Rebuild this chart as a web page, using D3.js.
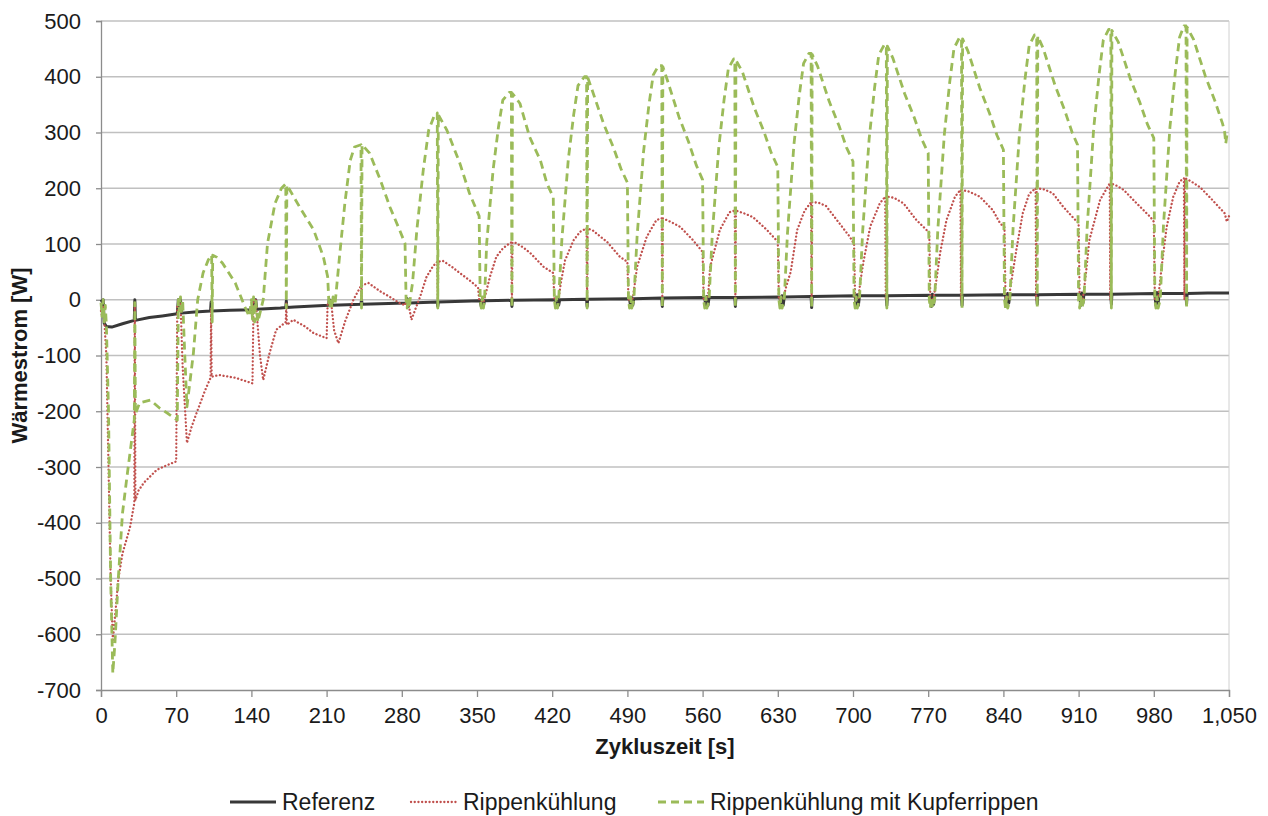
<!DOCTYPE html>
<html>
<head>
<meta charset="utf-8">
<title>Wärmestrom</title>
<script src="https://cdn.jsdelivr.net/npm/d3@7"></script>
<style>
  body { margin: 0; background: #fff; }
  text { font-family: "Liberation Sans", Arial, sans-serif; fill: #1a1a1a; }
</style>
</head>
<body>
<div id="chart"></div>
<script type="text/javascript">
// data: [Zykluszeit s, Wärmestrom W]
var seriesNames = ["Referenz", "Rippenkühlung", "Rippenkühlung mit Kupferrippen"];
var xTicks = [0, 70, 140, 210, 280, 350, 420, 490, 560, 630, 700, 770, 840, 910, 980, 1050];
var yTicks = [-700, -600, -500, -400, -300, -200, -100, 0, 100, 200, 300, 400, 500];

var referenz = [
  [0,0],[1,-3],[2,0],[3,-42],[5,-48],[10,-49],[20,-43],[31,-37],[31.5,0],[32,-37],[45,-32],[57,-29],
  [71,-25],[72,0],[74,0],[75,-24],[87,-22],[102,-20],[102.5,-4],[103,-20],[120,-19],[141,-18],[142,0],
  [144,0],[145,-17],[167,-15],[172,-14],[172.5,-2],[173,-14],[180,-13],[212,-10],[212.5,0],[214,-2],
  [215,-10],[229,-9],[242,-8],[242.5,0],[243,-8],[284,-6],[285,2],[286,-12],[287,-6],[313,-4],
  [313.5,-12],[314,-4],[353,-2],[354,-12],[355,2],[356,-10],[357,-2],[382,-1],[382.5,-12],[383,-1],
  [423,0],[424,-12],[425,3],[426,-10],[427,0],[452,1],[452.5,-12],[453,1],[492,2],[493,-12],[494,4],
  [495,-10],[496,2],[522,3],[522.5,-12],[523,3],[562,4],[563,-12],[564,6],[565,-10],[566,4],[590,4],
  [590.5,-12],[591,4],[632,5],[633,-12],[634,7],[635,-10],[636,5],[661,6],[661.5,-14],[662,6],[702,7],
  [703,-12],[704,9],[705,-10],[706,7],[731,7],[731.5,-10],[732,7],[772,8],[773,-12],[774,10],[775,-8],
  [776,8],[801,8],[801.5,-10],[802,8],[842,9],[843,-10],[844,11],[845,-6],[846,9],[871,9],[871.5,-8],
  [872,9],[911,10],[912,-10],[913,12],[914,-6],[915,10],[940,10],[940.5,-8],[941,10],[981,11],
  [982,-10],[983,13],[984,-6],[985,11],[1010,11],[1010.5,-8],[1011,11],[1030,12],[1050,12]
];

var rippen = [
  [0,-20],[1,-30],[2,-10],[3,-35],[5,-100],[7,-300],[9,-500],[11,-610],[13,-570],[16,-503],[20,-455],
  [27,-408],[31,-365],[31.5,-5],[32,-360],[35,-342],[40,-328],[52,-305],[60,-298],[70,-290],[71,-10],
  [74,-5],[76,-120],[80,-257],[84,-230],[89,-203],[97,-162],[102,-140],[102.5,-15],[103,-138],[110,-135],
  [125,-140],[141,-150],[142,-5],[144,0],[148,-100],[151,-144],[157,-95],[163,-54],[172,-40],[172.5,-5],
  [173,-45],[179,-36],[190,-48],[198,-60],[210,-69],[211,-5],[214,0],[217,-55],[221,-78],[227,-40],
  [235,0],[242,25],[242.5,0],[243,26],[249,30],[260,15],[269,5],[278,-6],[283,-10],[284,0],[286,-5],
  [289,-36],[293,-15],[297,5],[303,41],[309,60],[313,68],[313.5,0],[314,68],[318,70],[326,60],[334,48],
  [343,35],[351,22],[352,0],[356,-5],[358,10],[362,41],[368,77],[374,92],[378,98],[382,103],[382.5,0],
  [383,103],[386,102],[393,94],[400,83],[412,59],[421,48],[422,0],[426,2],[428,30],[432,71],[440,107],
  [446,122],[452,128],[452.5,0],[453,128],[458,124],[465,113],[471,104],[483,77],[490,68],[491,0],
  [495,2],[497,30],[499,59],[508,113],[517,143],[522,146],[522.5,0],[523,146],[530,140],[539,131],
  [551,107],[560,86],[561,0],[565,2],[567,59],[576,125],[585,157],[590,160],[590.5,0],[591,160],
  [600,154],[607,148],[620,125],[630,104],[631,0],[635,2],[638,25],[642,50],[648,125],[655,160],
  [661,175],[661.5,0],[662,175],[668,174],[675,168],[685,143],[697,113],[701,100],[702,0],[705,2],
  [707,35],[710,71],[716,131],[725,173],[730,185],[730.5,0],[731,185],[738,183],[747,173],[759,143],
  [767,128],[771,120],[772,0],[775,2],[778,40],[781,83],[787,143],[795,185],[800,197],[800.5,0],
  [801,197],[808,194],[818,185],[830,161],[837,137],[841,130],[842,0],[845,2],[848,40],[852,89],
  [858,155],[864,190],[870,200],[870.5,0],[871,200],[878,198],[886,191],[896,166],[907,143],[910,138],
  [911,0],[914,2],[917,50],[920,107],[930,179],[939,209],[939.5,0],[940,209],[946,204],[952,197],
  [964,173],[977,148],[980,140],[981,0],[984,2],[988,70],[992,131],[998,184],[1004,212],[1008,218],
  [1008.5,0],[1009,218],[1015,212],[1023,202],[1035,178],[1046,155],[1048,140],[1050,150]
];

var kupfer = [
  [0,-5],[1,-30],[2,0],[3,-40],[4,-10],[5,-45],[7,-200],[9,-500],[11,-670],[13,-615],[16,-503],
  [20,-383],[24,-320],[28,-260],[31,-215],[31.5,-5],[32,-205],[36,-185],[46,-180],[55,-195],[63,-205],
  [71,-216],[72,0],[73,-20],[74,5],[75,-25],[76,0],[78,-100],[80,-192],[86,-96],[90,0],[95,48],
  [100,72],[103,80],[103.5,-40],[104,80],[108,76],[113,66],[125,30],[134,-13],[138,-30],[140,0],
  [141,-35],[142,5],[143,-40],[144,0],[146,-40],[151,0],[155,101],[162,173],[168,200],[172,208],
  [172.5,-15],[173,206],[185,166],[198,125],[207,77],[211,41],[212,0],[213,-15],[214,5],[215,-15],
  [216,5],[218,-5],[222,77],[227,173],[232,250],[236,274],[242,278],[242.5,-15],[243,278],[250,263],
  [260,215],[269,166],[278,125],[283,101],[284,0],[285,-15],[286,5],[287,-15],[288,5],[290,30],
  [294,125],[300,233],[305,304],[311,334],[313,335],[313.5,-15],[314,332],[322,304],[334,245],
  [343,191],[352,150],[353,0],[354,-15],[355,5],[356,-15],[357,0],[359,101],[365,233],[370,310],
  [374,358],[380,372],[382,372],[382.5,-15],[383,370],[390,352],[399,292],[409,250],[415,209],
  [421,184],[422,0],[423,-15],[424,5],[425,-15],[426,0],
  [429,108],[435,252],[440,332],[444,384],[450,400],[452,400],[452.5,-15],[453,399],[457,377],
  [468,315],[477,273],[484,235],[490,210],[491,0],[492,-15],[493,5],[494,-15],[496,0],
  [499,113],[505,265],[510,349],[514,403],[519,420],[522,420],[522.5,-15],[523,418],[527,395],
  [538,328],[547,283],[554,242],[560,215],[561,0],[562,-15],[563,5],[564,-15],[566,0],
  [569,117],[575,272],[580,359],[584,415],[589,432],[590,432],[590.5,-15],[591,430],[597,409],
  [608,345],[617,302],[624,263],[630,238],[631,0],[632,-15],[633,5],[634,-15],[636,0],
  [639,119],[645,278],[650,367],[654,424],[659,442],[661,442],[661.5,-15],[662,440],[667,419],
  [678,355],[687,312],[694,273],[700,248],[701,0],[702,-15],[703,5],[704,-15],[706,0],
  [709,123],[715,288],[720,379],[724,439],[729,457],[731,457],[731.5,-15],[732,455],[737,434],
  [748,370],[757,327],[764,288],[770,263],[771,0],[772,-15],[773,5],[774,-15],[776,0],
  [779,127],[785,296],[790,390],[794,451],[799,470],[801,470],[801.5,-15],[802,468],[807,446],
  [818,380],[827,335],[834,295],[840,269],[841,0],[842,-15],[843,5],[844,-15],[846,0],
  [849,128],[855,299],[860,394],[864,456],[869,475],[871,475],[871.5,-15],[872,473],[877,451],
  [888,385],[897,340],[904,300],[909,278],[910,0],[911,-15],[912,5],[913,-15],[915,0],
  [918,131],[924,306],[929,403],[933,466],[938,485],[940,485],[940.5,-15],[941,483],[947,462],
  [958,397],[967,354],[974,315],[980,290],[981,0],[982,-15],[983,5],[984,-15],[986,0],
  [989,133],[995,309],[1000,408],[1004,471],[1008,491],[1010,491],[1010.5,-15],[1011,489],[1017,467],
  [1028,401],[1037,356],[1044,316],[1046,300],[1047,280],[1048,295],[1050,290]
];

var width = 1268, height = 816;
var plotLeft = 101, plotRight = 1229, plotTop = 21, plotBottom = 690;

var x = d3.scaleLinear().domain([0, 1050]).range([plotLeft, plotRight]);
var y = d3.scaleLinear().domain([-700, 500]).range([plotBottom, plotTop]);

var svg = d3.select("#chart").append("svg")
    .attr("width", width)
    .attr("height", height)
    .style("background", "#fff");

// horizontal gridlines
svg.append("g").selectAll("line")
    .data(yTicks.filter(function(d) { return d > -700; }))
    .enter().append("line")
      .attr("x1", plotLeft).attr("x2", plotRight)
      .attr("y1", function(d) { return y(d); })
      .attr("y2", function(d) { return y(d); })
      .attr("stroke", "#c0c0c0")
      .attr("stroke-width", 1.3);

// right edge of plot area
svg.append("line")
    .attr("x1", plotRight).attr("x2", plotRight)
    .attr("y1", plotTop).attr("y2", plotBottom)
    .attr("stroke", "#d0d0d0");

// plain hyphen for negatives, like the original
var yAxis = svg.append("g")
    .attr("transform", "translate(" + plotLeft + ",0)")
    .call(d3.axisLeft(y).tickValues(yTicks).tickSize(5).tickPadding(15)
      .tickFormat(function(d) { return String(d); }));

var xAxis = svg.append("g")
    .attr("transform", "translate(0," + plotBottom + ")")
    .call(d3.axisBottom(x).tickValues(xTicks).tickSize(7).tickPadding(10)
      .tickFormat(d3.format(",")));

[yAxis, xAxis].forEach(function(ax) {
  ax.select(".domain").attr("stroke", "#8c8c8c").attr("stroke-width", 1.3);
  ax.selectAll(".tick line").attr("stroke", "#8c8c8c").attr("stroke-width", 1.3);
  ax.selectAll(".tick text")
    .style("font-family", "'Liberation Sans', Arial, sans-serif")
    .style("font-size", "22px")
    .attr("fill", "#1a1a1a");
});

var line = d3.line()
    .x(function(d) { return x(d[0]); })
    .y(function(d) { return y(d[1]); });

var styles = [
  { data: referenz, color: "#383838", width: 3, dash: null, cap: "butt" },
  { data: rippen, color: "#c0504d", width: 2.3, dash: "0.1,3.6", cap: "round" },
  { data: kupfer, color: "#9bbb59", width: 2.8, dash: "8,5", cap: "butt" }
];

svg.append("g").selectAll("path")
    .data(styles)
    .enter().append("path")
      .attr("d", function(s) { return line(s.data); })
      .attr("fill", "none")
      .attr("stroke", function(s) { return s.color; })
      .attr("stroke-width", function(s) { return s.width; })
      .attr("stroke-dasharray", function(s) { return s.dash; })
      .attr("stroke-linecap", function(s) { return s.cap; })
      .attr("stroke-linejoin", "round");

// axis titles
svg.append("text")
    .attr("x", (plotLeft + plotRight) / 2)
    .attr("y", 754)
    .attr("text-anchor", "middle")
    .style("font-size", "22px")
    .style("font-weight", "bold")
    .text("Zykluszeit [s]");

svg.append("text")
    .attr("transform", "translate(27," + ((plotTop + plotBottom) / 2) + ") rotate(-90)")
    .attr("text-anchor", "middle")
    .style("font-size", "22px")
    .style("font-weight", "bold")
    .text("Wärmestrom [W]");

// legend
var legendX = [230, 411, 658];
var legend = svg.append("g").selectAll("g")
    .data(styles)
    .enter().append("g")
      .attr("transform", function(s, i) { return "translate(" + legendX[i] + ",802)"; });

legend.append("line")
    .attr("x1", 0).attr("x2", 46)
    .attr("stroke", function(s) { return s.color; })
    .attr("stroke-width", function(s) { return s.width; })
    .attr("stroke-dasharray", function(s) { return s.dash; })
    .attr("stroke-linecap", function(s) { return s.cap; });

legend.append("text")
    .attr("x", 52)
    .attr("dy", "0.35em")
    .style("font-size", "23px")
    .text(function(s, i) { return seriesNames[i]; });
</script>
</body>
</html>
